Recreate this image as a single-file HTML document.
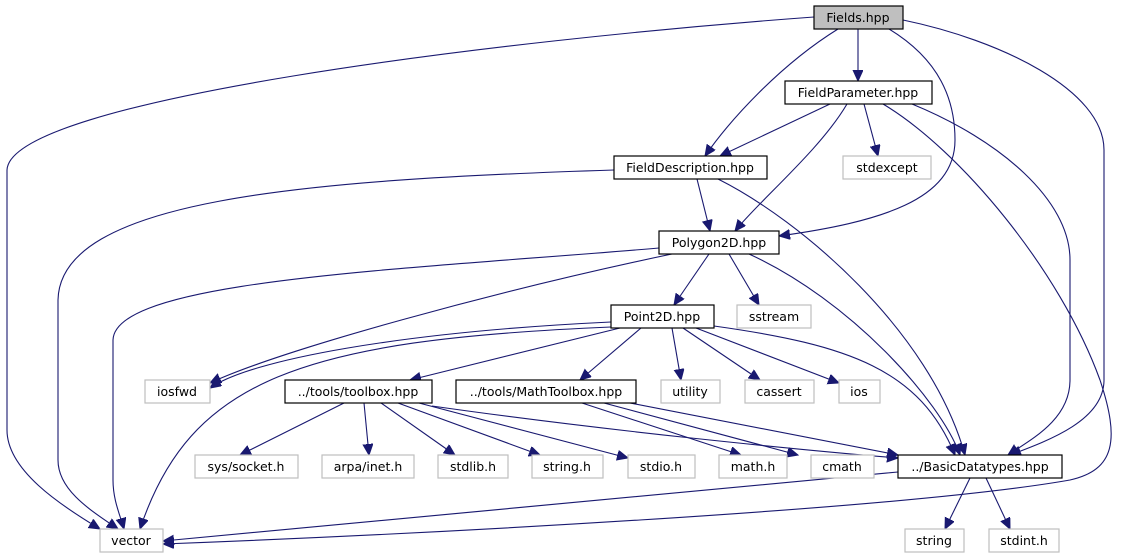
<!DOCTYPE html>
<html><head><meta charset="utf-8"><style>
html,body{margin:0;padding:0;background:#fff;}
svg{display:block;}
text{font-family:"DejaVu Sans","Liberation Sans",sans-serif;font-size:12.5px;fill:#000;text-anchor:middle;}
.e{fill:none;stroke:#191970;stroke-width:1.1;marker-end:url(#a);}
.n{fill:#fff;stroke:#000;stroke-width:1.2;}
.g{fill:#fff;stroke:#bfbfbf;stroke-width:1.2;}
</style></head><body>
<svg width="1127" height="560" viewBox="0 0 1127 560" xmlns="http://www.w3.org/2000/svg">
<defs><marker id="a" markerUnits="userSpaceOnUse" markerWidth="14" markerHeight="12" refX="11" refY="5" orient="auto"><path d="M0,0 L11,5 L0,10 Z" fill="#191970" stroke="#191970"/></marker></defs>
<path class="e" d="M814,17 C500,40 10,100 7,170 L7,430 C7,470 60,505 100,529"/>
<path class="e" d="M838,29 C780,65 730,120 705,156"/>
<path class="e" d="M858,29 L858,81"/>
<path class="e" d="M889,29 C940,60 955,100 955,140 C955,200 880,222 779,236"/>
<path class="e" d="M903,20 C1000,40 1104,90 1104,150 L1104,380 C1104,420 1050,440 1010,455"/>
<path class="e" d="M830,104 L720,156"/>
<path class="e" d="M847,104 C820,150 760,200 735,231"/>
<path class="e" d="M864,104 L878,156"/>
<path class="e" d="M883,104 C960,150 1060,270 1100,380 C1120,440 1115,470 1070,480 C900,510 400,535 163,544"/>
<path class="e" d="M912,104 C1000,140 1070,200 1070,260 L1070,380 C1070,420 1030,440 1008,455"/>
<path class="e" d="M614,170 C300,180 60,200 58,300 L58,460 C58,490 90,510 118,529"/>
<path class="e" d="M697,179 L710,231"/>
<path class="e" d="M718,179 C800,220 930,330 965,455"/>
<path class="e" d="M709,254 L674,305"/>
<path class="e" d="M729,254 L759,305"/>
<path class="e" d="M672,254 C500,290 280,350 210,383"/>
<path class="e" d="M749,254 C850,300 940,400 960,455"/>
<path class="e" d="M659,248 C400,270 115,280 113,340 L113,480 C113,500 120,515 124,529"/>
<path class="e" d="M611,322 C400,332 250,360 210,388"/>
<path class="e" d="M611,327 C300,340 190,380 140,529"/>
<path class="e" d="M620,328 L410,380"/>
<path class="e" d="M641,328 L580,380"/>
<path class="e" d="M672,328 L681,380"/>
<path class="e" d="M683,328 L760,380"/>
<path class="e" d="M696,328 L839,383"/>
<path class="e" d="M714,326 C850,345 920,370 955,455"/>
<path class="e" d="M344,403 L240,455"/>
<path class="e" d="M364,403 L369,455"/>
<path class="e" d="M381,403 L455,455"/>
<path class="e" d="M398,403 L540,455"/>
<path class="e" d="M419,403 L628,458"/>
<path class="e" d="M432,406 C600,430 800,450 898,458"/>
<path class="e" d="M582,403 L741,455"/>
<path class="e" d="M604,403 L798,455"/>
<path class="e" d="M630,403 L898,455"/>
<path class="e" d="M898,472 C600,500 300,530 163,541"/>
<path class="e" d="M970,478 L945,529"/>
<path class="e" d="M986,478 L1010,529"/>

<rect x="814" y="6" width="89" height="23" fill="#bfbfbf" stroke="#000" stroke-width="1.2"/><text x="858" y="22">Fields.hpp</text>
<rect class="n" x="785" y="81" width="147" height="23"/><text x="858" y="97">FieldParameter.hpp</text>
<rect class="n" x="614" y="156" width="153" height="23"/><text x="690" y="172">FieldDescription.hpp</text>
<rect class="g" x="843" y="156" width="88" height="23"/><text x="887" y="172">stdexcept</text>
<rect class="n" x="659" y="231" width="120" height="23"/><text x="719" y="247">Polygon2D.hpp</text>
<rect class="n" x="611" y="305" width="103" height="23"/><text x="662" y="321">Point2D.hpp</text>
<rect class="g" x="737" y="305" width="74" height="23"/><text x="774" y="321">sstream</text>
<rect class="g" x="145" y="380" width="65" height="23"/><text x="177" y="396">iosfwd</text>
<rect class="n" x="285" y="380" width="147" height="23"/><text x="358" y="396">../tools/toolbox.hpp</text>
<rect class="n" x="456" y="380" width="180" height="23"/><text x="546" y="396">../tools/MathToolbox.hpp</text>
<rect class="g" x="661" y="380" width="59" height="23"/><text x="690" y="396">utility</text>
<rect class="g" x="745" y="380" width="69" height="23"/><text x="779" y="396">cassert</text>
<rect class="g" x="839" y="380" width="41" height="23"/><text x="859" y="396">ios</text>
<rect class="g" x="195" y="455" width="103" height="23"/><text x="246" y="471">sys/socket.h</text>
<rect class="g" x="322" y="455" width="92" height="23"/><text x="368" y="471">arpa/inet.h</text>
<rect class="g" x="438" y="455" width="70" height="23"/><text x="473" y="471">stdlib.h</text>
<rect class="g" x="532" y="455" width="71" height="23"/><text x="567" y="471">string.h</text>
<rect class="g" x="628" y="455" width="67" height="23"/><text x="661" y="471">stdio.h</text>
<rect class="g" x="719" y="455" width="68" height="23"/><text x="753" y="471">math.h</text>
<rect class="g" x="811" y="455" width="63" height="23"/><text x="842" y="471">cmath</text>
<rect class="n" x="898" y="455" width="164" height="23"/><text x="980" y="471">../BasicDatatypes.hpp</text>
<rect class="g" x="100" y="529" width="63" height="23"/><text x="131" y="545">vector</text>
<rect class="g" x="905" y="529" width="59" height="23"/><text x="934" y="545">string</text>
<rect class="g" x="989" y="529" width="70" height="23"/><text x="1024" y="545">stdint.h</text>
</svg>
</body></html>
